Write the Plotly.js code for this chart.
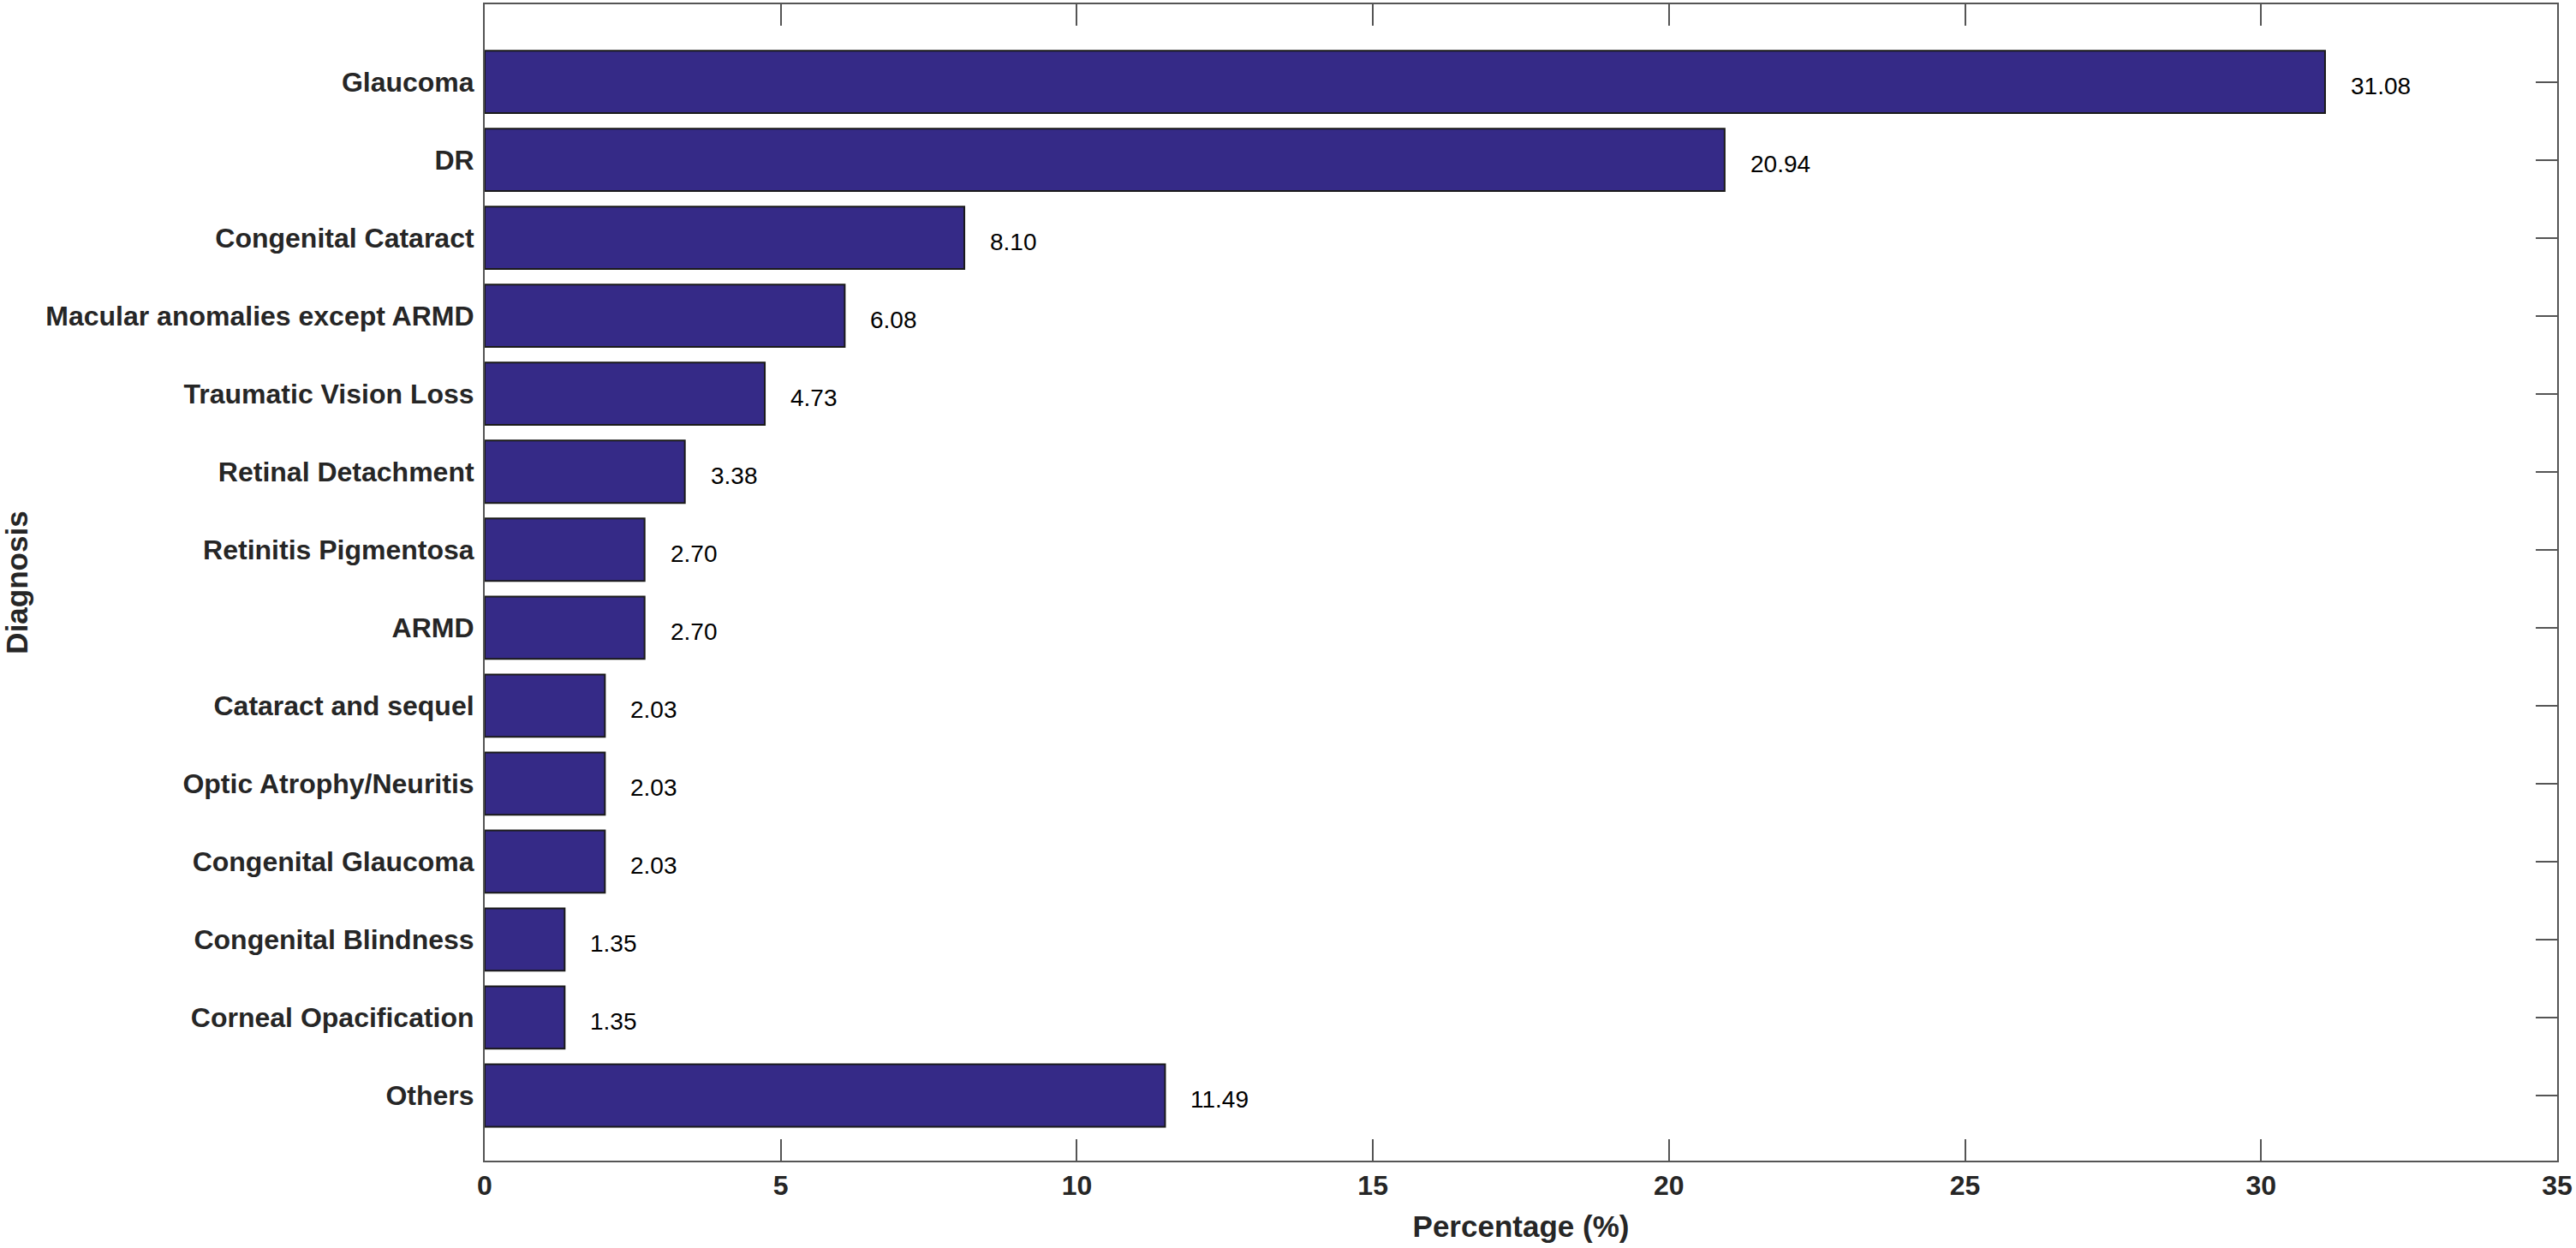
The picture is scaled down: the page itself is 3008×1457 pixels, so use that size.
<!DOCTYPE html>
<html>
<head>
<meta charset="utf-8">
<script src="https://cdn.plot.ly/plotly-3.0.1.min.js"></script>
<style>html,body{margin:0;padding:0;background:#fff;}#chart{width:3008px;height:1457px;}</style>
</head>
<body>
<div id="chart"></div>
<script>
const diagnoses = [
  "Glaucoma",
  "DR",
  "Congenital Cataract",
  "Macular anomalies except ARMD",
  "Traumatic Vision Loss",
  "Retinal Detachment",
  "Retinitis Pigmentosa",
  "ARMD",
  "Cataract and sequel",
  "Optic Atrophy/Neuritis",
  "Congenital Glaucoma",
  "Congenital Blindness",
  "Corneal Opacification",
  "Others"
];
const percentages = [31.08, 20.94, 8.10, 6.08, 4.73, 3.38, 2.70, 2.70, 2.03, 2.03, 2.03, 1.35, 1.35, 11.49];
const xTicks = [0, 5, 10, 15, 20, 25, 30, 35];

const barTrace = {
  type: "bar",
  orientation: "h",
  x: percentages,
  y: diagnoses,
  width: 0.8,
  marker: { color: "rgb(53,42,135)", line: { color: "#1a1a1a", width: 2 } },
  hoverinfo: "x+y",
  showlegend: false
};

const annotations = diagnoses.map((d, i) => ({
  x: percentages[i],
  y: d,
  xref: "x",
  yref: "y",
  text: percentages[i].toFixed(2),
  showarrow: false,
  xanchor: "left",
  yanchor: "middle",
  xshift: 28,
  yshift: -5,
  font: { family: "Liberation Sans, Arial, sans-serif", size: 28, color: "#000" }
}));

const layout = {
  width: 3008,
  height: 1457,
  margin: { l: 566, r: 22, t: 5, b: 102 },
  paper_bgcolor: "#fff",
  plot_bgcolor: "#fff",
  bargap: 0.2,
  font: { family: "Liberation Sans, Arial, sans-serif", color: "#262626" },
  xaxis: {
    range: [0, 35],
    tickvals: xTicks,
    ticktext: xTicks.map(String),
    ticks: "inside",
    ticklen: 25,
    tickwidth: 2,
    tickcolor: "#555",
    showline: true,
    linecolor: "#555",
    linewidth: 2,
    mirror: "ticks",
    showgrid: false,
    zeroline: false,
    tickfont: { family: "Liberation Sans, Arial, sans-serif", size: 32, color: "#262626", weight: "bold" },
    title: { text: "<b>Percentage (%)</b>", font: { family: "Liberation Sans, Arial, sans-serif", size: 35, color: "#262626" }, standoff: 18 },
    layer: "below traces"
  },
  yaxis: {
    type: "category",
    categoryorder: "array",
    categoryarray: diagnoses,
    range: [13.835, -0.995],
    ticks: "inside",
    ticklen: 25,
    tickwidth: 2,
    tickcolor: "#555",
    showline: true,
    linecolor: "#555",
    linewidth: 2,
    mirror: "ticks",
    showgrid: false,
    zeroline: false,
    ticklabelstandoff: 4,
    tickfont: { family: "Liberation Sans, Arial, sans-serif", size: 32, color: "#262626", weight: "bold" },
    title: { text: "<b>Diagnosis</b>", font: { family: "Liberation Sans, Arial, sans-serif", size: 35, color: "#262626" }, standoff: 16 },
    layer: "below traces"
  },
  annotations: annotations
};

Plotly.newPlot("chart", [barTrace], layout, { displayModeBar: false, staticPlot: true });
</script>
</body>
</html>
